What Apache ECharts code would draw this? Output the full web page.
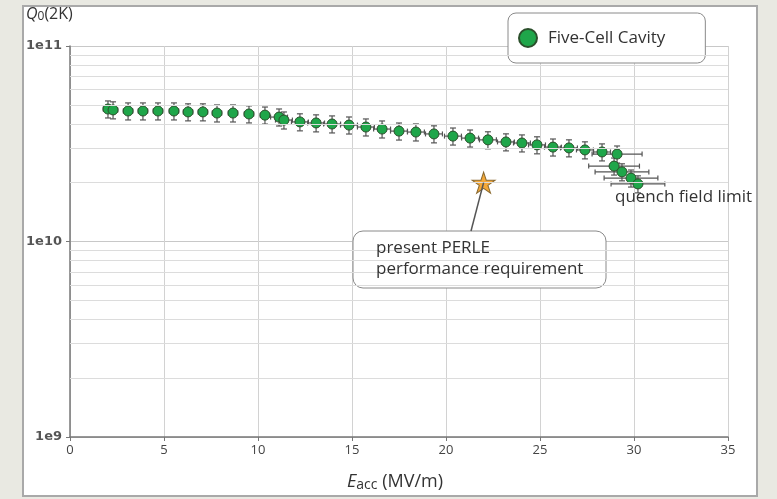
<!DOCTYPE html>
<html>
<head>
<meta charset="utf-8">
<script src="https://cdn.jsdelivr.net/npm/echarts@6/dist/echarts.min.js"></script>
<style>
  html, body { margin: 0; padding: 0; background: #e9e9e2; }
  #chart { width: 777px; height: 499px; }
</style>
</head>
<body>
<div id="chart"></div>
<script>
// measured points, Five-Cell Cavity
const eAcc = [2.02, 2.29, 3.09, 3.88, 4.68, 5.53, 6.28, 7.07, 7.82, 8.67, 9.52, 10.37,
  11.12, 11.38, 12.23, 13.09, 13.94, 14.84, 15.74, 16.60, 17.50, 18.40, 19.36, 20.37,
  21.28, 22.23, 23.19, 24.04, 24.84, 25.69, 26.54, 27.39, 28.30,
  29.10, 28.94, 29.36, 29.84, 30.21];
const q0 = [4.76e10, 4.71e10, 4.65e10, 4.65e10, 4.65e10, 4.65e10, 4.60e10, 4.60e10, 4.54e10, 4.54e10, 4.49e10, 4.43e10,
  4.33e10, 4.18e10, 4.09e10, 4.04e10, 3.99e10, 3.94e10, 3.85e10, 3.76e10, 3.67e10, 3.63e10, 3.55e10, 3.46e10,
  3.38e10, 3.31e10, 3.23e10, 3.19e10, 3.12e10, 3.04e10, 3.01e10, 2.94e10, 2.87e10,
  2.80e10, 2.43e10, 2.27e10, 2.11e10, 1.97e10];
// horizontal error (MV/m)
const eErr = [0.25, 0.25, 0.25, 0.25, 0.25, 0.25, 0.25, 0.25, 0.25, 0.25, 0.25, 0.25,
  0.45, 0.45, 0.45, 0.45, 0.45, 0.45, 0.45, 0.45, 0.45, 0.45, 0.45, 0.45,
  0.45, 0.45, 0.45, 0.45, 0.45, 0.45, 0.45, 0.45, 0.45,
  1.33, 1.35, 1.43, 1.43, 1.43];
const qRelErr = 0.1;

// PERLE requirement
const perle = [22, 2e10];

// axes
const xTicks = [0, 5, 10, 15, 20, 25, 30, 35];
const minorGrid = [2e9, 3e9, 4e9, 5e9, 6e9, 7e9, 8e9, 9e9,
  2e10, 3e10, 4e10, 5e10, 6e10, 7e10, 8e10, 9e10];

const chart = echarts.init(document.getElementById('chart'));

const pts = eAcc.map((e, i) => [e, q0[i], eErr[i], qRelErr]);

const option = {
  backgroundColor: '#e9e9e2',
  animation: false,
  textStyle: { fontFamily: 'Open Sans' },
  grid: { left: 70, right: 49, top: 46, bottom: 62 },
  graphic: [
    {
      type: 'rect', z: -10,
      shape: { x: 23, y: 6, width: 734, height: 490 },
      style: { fill: '#ffffff', stroke: '#a9a9a9', lineWidth: 2 }
    },
    {
      type: 'text', left: 26, top: 6,
      style: {
        text: '{i|Q}{s|0}{n|(2K)}',
        rich: {
          i: { fontStyle: 'italic', fontSize: 16, fill: '#333', fontFamily: 'Open Sans' },
          s: { fontSize: 12, fill: '#333', padding: [6, 0, 0, 0], fontFamily: 'Open Sans' },
          n: { fontSize: 16, fill: '#333', fontFamily: 'Open Sans' }
        }
      }
    },
    {
      type: 'text', left: 347, top: 473,
      style: {
        text: '{i|E}{s|acc}{n| (MV/m)}',
        rich: {
          i: { fontStyle: 'italic', fontSize: 18, fill: '#333', fontFamily: 'Open Sans' },
          s: { fontSize: 14, fill: '#333', padding: [6, 0, 0, 0], fontFamily: 'Open Sans' },
          n: { fontSize: 18, fill: '#333', fontFamily: 'Open Sans' }
        }
      }
    },
    {
      type: 'rect', z: 5,
      shape: { x: 353, y: 231, width: 253, height: 57, r: 10 },
      style: { fill: '#ffffff', stroke: '#8a8a8a', lineWidth: 1 }
    },
    {
      type: 'text', z: 6, left: 376, top: 238,
      style: {
        text: 'present PERLE\nperformance requirement',
        fontSize: 17, lineHeight: 21, fill: '#333', fontFamily: 'Open Sans'
      }
    },
    {
      type: 'text', z: 6, left: 615, top: 189,
      style: { text: 'quench field limit', fontSize: 17, fill: '#333', fontFamily: 'Open Sans' }
    }
  ],
  legend: {
    data: [{ name: 'Five-Cell Cavity', icon: 'circle' }],
    left: 508, top: 13,
    padding: [15, 40, 15, 10],
    itemWidth: 18, itemHeight: 18,
    backgroundColor: '#ffffff',
    borderColor: '#8a8a8a', borderWidth: 1, borderRadius: 8,
    textStyle: { fontSize: 17, color: '#333', fontFamily: 'Open Sans', padding: [0, 0, 0, 6] }
  },
  xAxis: {
    type: 'value', min: 0, max: 35, interval: 5,
    axisLine: { show: true, onZero: false, lineStyle: { color: '#777', width: 1.5 } },
    axisTick: { show: true, length: 4, lineStyle: { color: '#777' } },
    axisLabel: {
      margin: 7, fontSize: 13, color: '#444',
      customValues: xTicks
    },
    splitLine: { show: true, lineStyle: { color: '#d2d2d2', width: 1 } }
  },
  yAxis: {
    type: 'log', logBase: 10, min: 1e9, max: 1e11,
    axisLine: { show: true, lineStyle: { color: '#777', width: 1.5 } },
    axisTick: { show: true, length: 4, lineStyle: { color: '#777' } },
    axisLabel: {
      margin: 8, fontSize: 13, color: '#555', fontWeight: 'bold', fontFamily: 'DejaVu Sans',
      formatter: v => '1e' + Math.round(Math.log10(v))
    },
    splitLine: { show: true, lineStyle: { color: '#c8c8c8', width: 1 } }
  },
  series: [
    {
      // minor log grid + leader line
      type: 'line', data: [], z: 1, silent: true,
      markLine: {
        silent: true, symbol: 'none', animation: false,
        label: { show: false },
        lineStyle: { color: '#dcdcdc', width: 1, type: 'solid' },
        data: minorGrid.map(v => ({ yAxis: v })).concat([
          [
            { coord: perle, lineStyle: { color: '#555', width: 1.5 } },
            { x: 471, y: 231 }
          ]
        ])
      }
    },
    {
      type: 'custom', name: 'err', z: 3, silent: true,
      encode: { x: 0, y: 1 },
      data: pts,
      renderItem: function (params, api) {
        const x = api.value(0), y = api.value(1), ex = api.value(2), ry = api.value(3);
        const lo = api.coord([x, y * (1 - ry)]);
        const hi = api.coord([x, y * (1 + ry)]);
        const l = api.coord([x - ex, y]);
        const r = api.coord([x + ex, y]);
        const st = { stroke: '#555', lineWidth: 1.2 };
        const line = (x1, y1, x2, y2) => ({ type: 'line', shape: { x1, y1, x2, y2 }, style: st });
        return {
          type: 'group',
          children: [
            line(lo[0], lo[1], hi[0], hi[1]),
            line(lo[0] - 3, lo[1], lo[0] + 3, lo[1]),
            line(hi[0] - 3, hi[1], hi[0] + 3, hi[1]),
            line(l[0], l[1], r[0], r[1]),
            line(l[0], l[1] - 2.5, l[0], l[1] + 2.5),
            line(r[0], r[1] - 2.5, r[0], r[1] + 2.5)
          ]
        };
      }
    },
    {
      type: 'scatter', name: 'Five-Cell Cavity', z: 4,
      data: pts.map(p => [p[0], p[1]]),
      symbol: 'circle', symbolSize: 10,
      itemStyle: { color: '#1fa64a', borderColor: '#2b4f2b', borderWidth: 1, opacity: 1 }
    },
    {
      type: 'scatter', name: 'PERLE', z: 4,
      data: [perle],
      symbol: 'path://M50,0 L61,35 L98,35 L68,57 L79,91 L50,70 L21,91 L32,57 L2,35 L39,35 Z',
      symbolSize: [23, 21],
      itemStyle: { color: '#f5a838', borderColor: '#8a6a30', borderWidth: 1, opacity: 1 }
    }
  ]
};

chart.setOption(option);
</script>
</body>
</html>
